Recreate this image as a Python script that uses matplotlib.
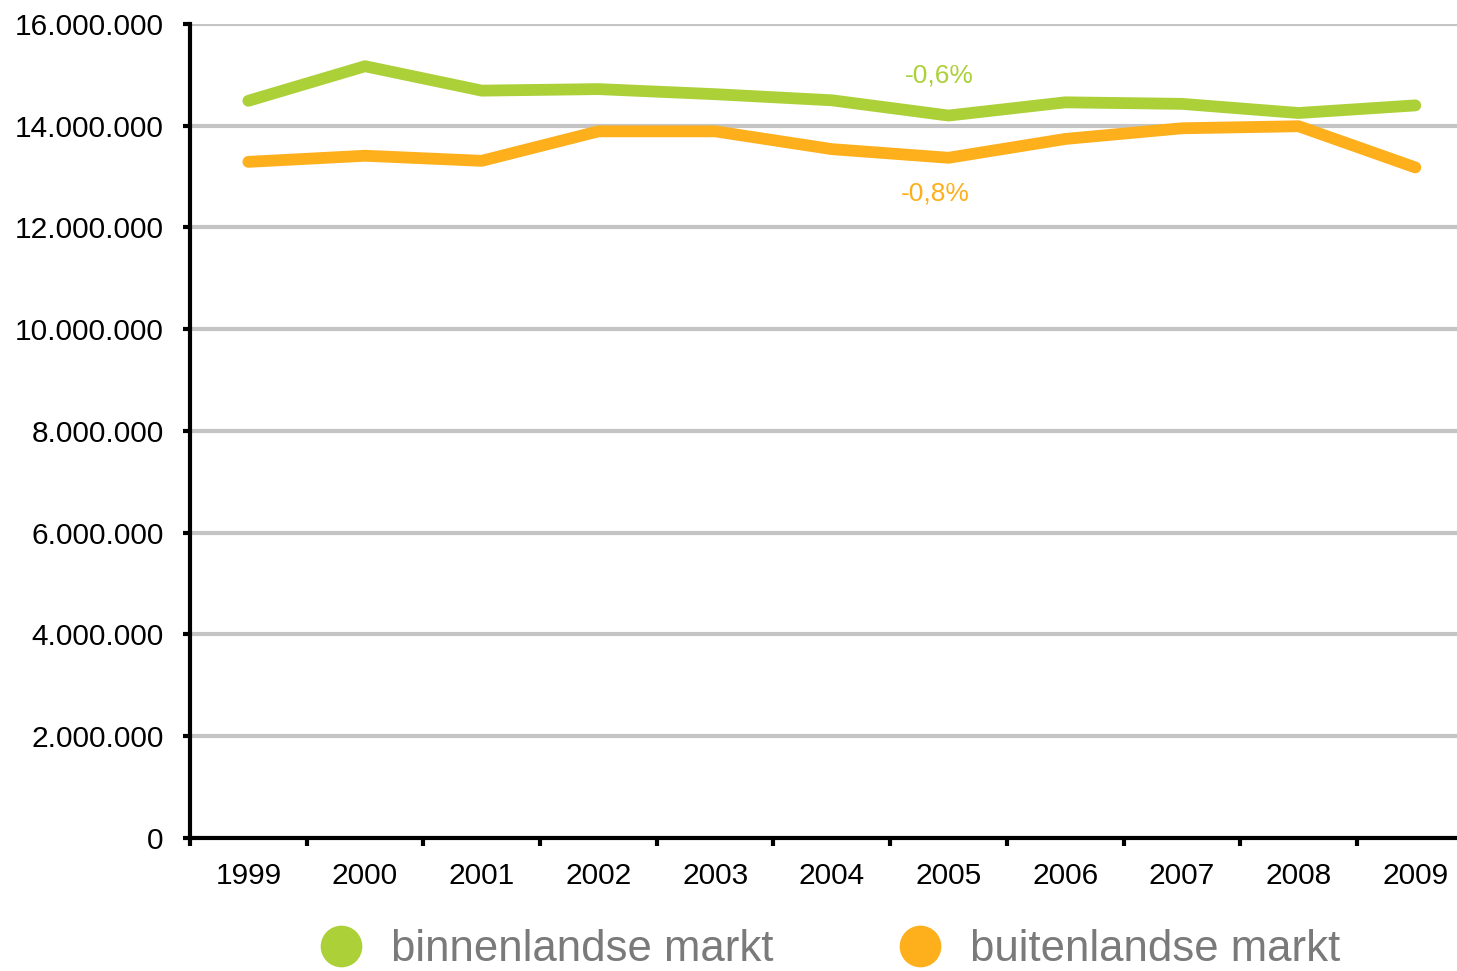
"""
Line chart: binnenlandse vs buitenlandse markt, 1999-2009
"""
import matplotlib.pyplot as plt
from matplotlib.lines import Line2D
from matplotlib.ticker import FuncFormatter, MultipleLocator
import numpy as np

plt.rcParams['font.family'] = ['Liberation Sans', 'DejaVu Sans']

years = ['1999', '2000', '2001', '2002', '2003', '2004', '2005', '2006', '2007', '2008', '2009']
binnenland = [14490000, 15170000, 14690000, 14720000, 14620000, 14500000, 14200000, 14460000, 14430000, 14250000, 14400000]
buitenland = [13290000, 13410000, 13310000, 13890000, 13890000, 13540000, 13370000, 13740000, 13950000, 13990000, 13180000]
labels = ['binnenlandse markt', 'buitenlandse markt']
pct_labels = ['-0,6%', '-0,8%']

green = '#acd037'
orange = '#fdaf1c'

fig = plt.figure(figsize=(14.57, 9.71), dpi=100)
ax = fig.add_axes([0.1304, 0.137, 0.8696, 0.8383])

x = np.arange(len(years))
ax.plot(x, binnenland, color=green, linewidth=8.5, solid_capstyle='round', zorder=3)
ax.plot(x, buitenland, color=orange, linewidth=8.5, solid_capstyle='round', zorder=3)

# growth annotations near 2005
ax.text(5.92, 14980000, pct_labels[0], color=green, fontsize=19, ha='center', va='center')
ax.text(5.89, 12660000, pct_labels[1], color=orange, fontsize=19, ha='center', va='center')

ax.set_xticks(x)
ax.set_xticklabels(years)
ax.set_xticks(np.arange(len(years) + 1) - 0.5, minor=True)
ax.set_ylim(0, 16000000)
ax.set_xlim(-0.5, 10.357)
ax.yaxis.set_major_locator(MultipleLocator(2000000))
ax.yaxis.set_major_formatter(FuncFormatter(lambda v, p: f'{int(v):,}'.replace(',', '.')))
ax.grid(axis='y', color='#c4c4c4', linewidth=3, zorder=1)

ax.tick_params(axis='x', which='major', length=0, labelsize=21.5, pad=17)
ax.tick_params(axis='x', which='minor', length=6, width=3, color='black')
ax.tick_params(axis='y', length=5, width=3, labelsize=21.5, pad=14)

for s in ['top', 'right']:
    ax.spines[s].set_visible(False)
for s in ['left', 'bottom']:
    ax.spines[s].set_linewidth(3)
    ax.spines[s].set_zorder(4)

handles = [Line2D([], [], marker='o', linestyle='none', markersize=29, color=c) for c in (green, orange)]
leg = fig.legend(handles, labels, loc='center', bbox_to_anchor=(0.562, 0.022), ncol=2,
                 frameon=False, fontsize=31.5, columnspacing=2.35, handletextpad=0.15)
for t in leg.get_texts():
    t.set_color('#7a7a7a')

fig.savefig('out.png', dpi=100)
